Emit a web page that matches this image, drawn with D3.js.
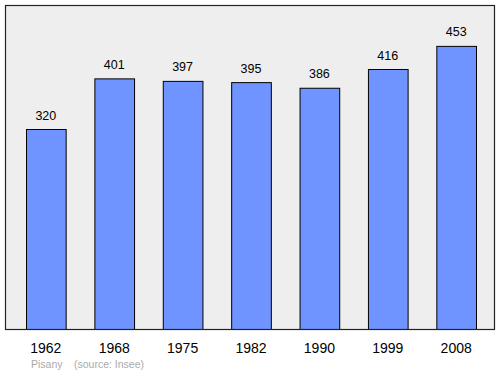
<!DOCTYPE html>
<html>
<head>
<meta charset="utf-8">
<script src="https://cdn.jsdelivr.net/npm/d3@7"></script>
<style>
  body { margin: 0; background: #fff; }
  svg { display: block; font-family: "Liberation Sans", Arial, sans-serif; }
</style>
</head>
<body>
<svg id="chart" width="500" height="374"></svg>
<script>
// data
var years = ["1962", "1968", "1975", "1982", "1990", "1999", "2008"];
var population = [320, 401, 397, 395, 386, 416, 453];
var footer = ["Pisany", "(source: Insee)"];

var data = years.map(function(y, i) { return {year: y, pop: population[i]}; });

// frame of the plot
var frame = {left: 5.5, top: 5.5, right: 494.5, bottom: 329.5};

var svg = d3.select("#chart");

// set the ranges
var x = d3.scaleBand()
    .domain(years)
    .range([26, 476])
    .paddingInner(0.42)
    .paddingOuter(0);

var y = d3.scaleLinear()
    .domain([0, 518.4])
    .range([frame.bottom, frame.top]);

// background
svg.append("rect")
    .attr("x", frame.left)
    .attr("y", frame.top)
    .attr("width", frame.right - frame.left)
    .attr("height", frame.bottom - frame.top)
    .attr("fill", "#eeeeee");

// bars
svg.selectAll(".bar")
    .data(data)
  .enter().append("rect")
    .attr("class", "bar")
    .attr("x", function(d) { return x(d.year) + 0.5; })
    .attr("y", function(d) { return y(d.pop); })
    .attr("width", x.bandwidth())
    .attr("height", function(d) { return y(0) - y(d.pop); })
    .attr("fill", "#7094ff")
    .attr("stroke", "#000")
    .attr("stroke-width", 1);

// value labels
svg.selectAll(".val")
    .data(data)
  .enter().append("text")
    .attr("class", "val")
    .attr("x", function(d) { return x(d.year) + x.bandwidth() / 2; })
    .attr("y", function(d) { return y(d.pop) - 10; })
    .attr("text-anchor", "middle")
    .attr("font-size", 12.5)
    .attr("fill", "#000")
    .text(function(d) { return d.pop; });

// frame border
svg.append("rect")
    .attr("x", frame.left)
    .attr("y", frame.top)
    .attr("width", frame.right - frame.left)
    .attr("height", frame.bottom - frame.top)
    .attr("fill", "none")
    .attr("stroke", "#222")
    .attr("stroke-width", 1.2);

// x axis labels
var xAxis = d3.axisBottom(x).tickSize(0).tickPadding(0);
var gx = svg.append("g")
    .attr("transform", "translate(0," + frame.bottom + ")")
    .call(xAxis);
gx.select(".domain").remove();
gx.selectAll("text")
    .attr("y", 23)
    .attr("dy", 0)
    .attr("font-size", 14)
    .attr("font-family", "Liberation Sans, Arial, sans-serif")
    .attr("fill", "#000");

// footer
svg.append("text")
    .attr("x", 31)
    .attr("y", 368)
    .attr("font-size", 10.5)
    .attr("fill", "#aaaaaa")
    .text(footer[0]);
svg.append("text")
    .attr("x", 74)
    .attr("y", 368)
    .attr("font-size", 10.5)
    .attr("fill", "#aaaaaa")
    .text(footer[1]);
</script>
</body>
</html>
